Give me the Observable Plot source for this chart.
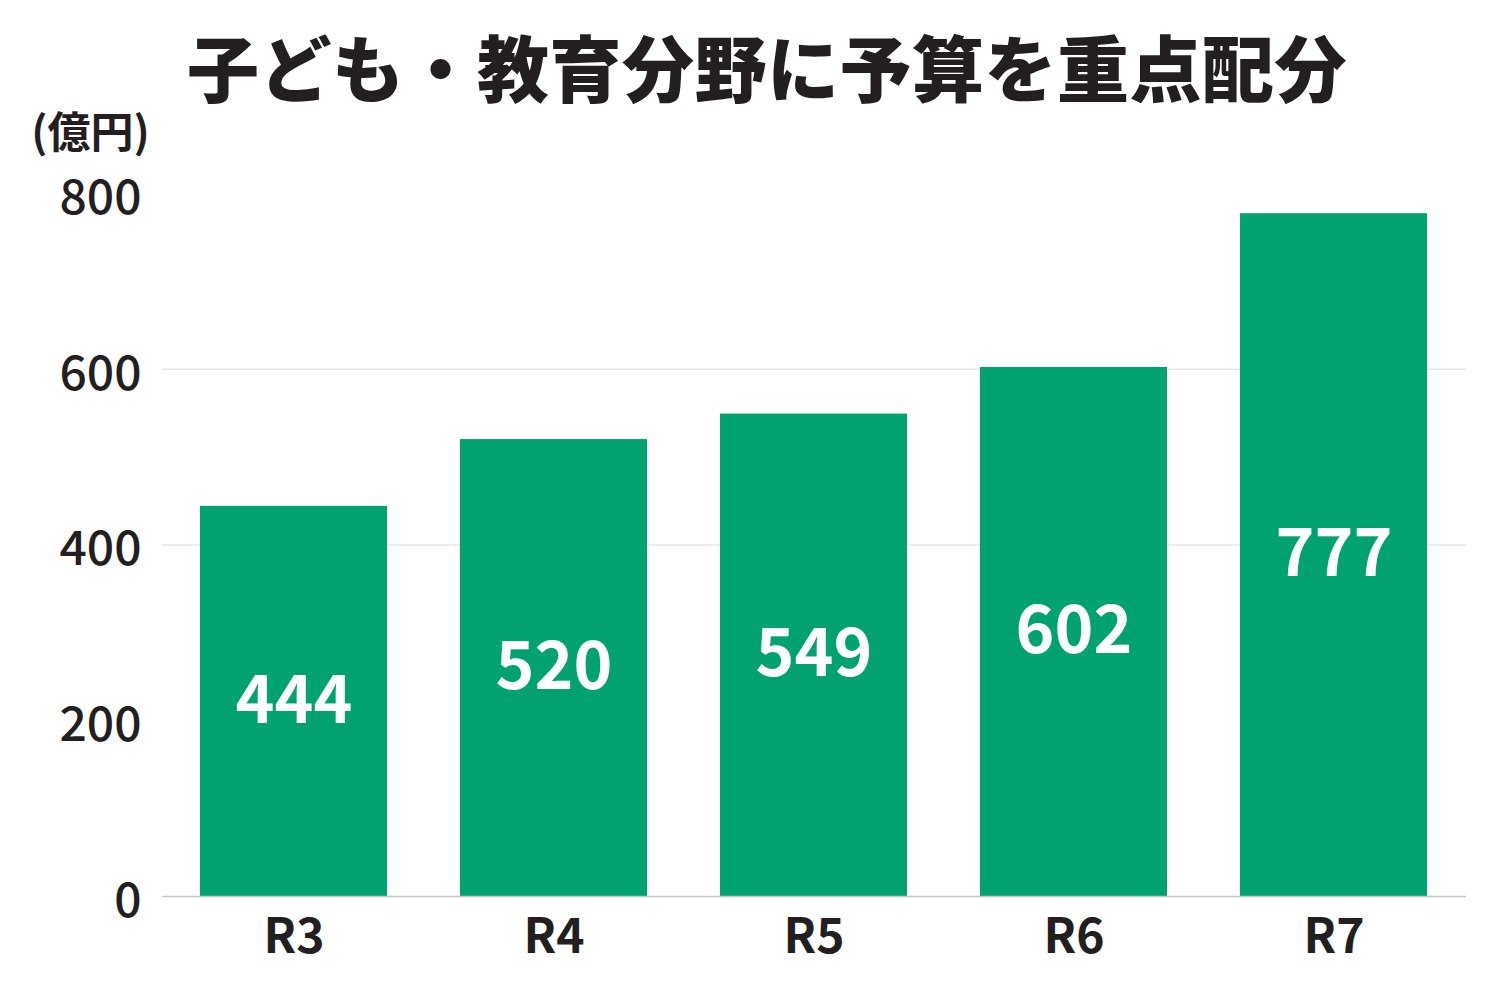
<!DOCTYPE html>
<html>
<head>
<meta charset="utf-8">
<script src="https://cdn.jsdelivr.net/npm/d3@7"></script>
<script src="https://cdn.jsdelivr.net/npm/@observablehq/plot@0.6"></script>
<style>
  html, body { margin: 0; padding: 0; background: #fff; }
  body { width: 1500px; font-family: "Noto Sans CJK JP", "Noto Sans", sans-serif; color: #231f20; }
  #title { padding: 28px 0 9px 34px; line-height: 73px; font-size: 72px; font-weight: 900; text-align: center; letter-spacing: 0.5px; }
  #chart svg { display: block; }
</style>
</head>
<body>
<div id="title">子ども・教育分野に予算を重点配分</div>
<div id="chart"></div>
<script>
const categories = ["R3", "R4", "R5", "R6", "R7"];
const values = [444, 520, 549, 602, 777];
const yTicks = [0, 200, 400, 600, 800];
const gridTicks = [400, 600];
const unitLabel = "(億円)";

const data = categories.map((c, i) => ({ category: c, value: values[i] }));

const chart = Plot.plot({
  width: 1500,
  height: 890,
  marginLeft: 162,
  marginRight: 34,
  marginTop: 83,
  marginBottom: 104,
  style: { fontFamily: "'Noto Sans CJK JP', 'Noto Sans', sans-serif", color: "#231f20", background: "#fff", overflow: "visible" },
  x: { domain: categories, paddingInner: 0.28, paddingOuter: 0.142, label: null },
  y: { domain: [0, 800], label: null },
  marks: [
    Plot.ruleY(gridTicks, { stroke: "#e6e6e6", strokeWidth: 1.5 }),
    Plot.barY(data, { x: "category", y: "value", fill: "#00a270" }),
    Plot.ruleY([0], { stroke: "#c8c8c8", strokeWidth: 1.5 }),
    Plot.axisY({ ticks: yTicks, tickSize: 0, tickPadding: 21, fontSize: 48, fontWeight: 500, dy: 5, label: null }),
    Plot.axisX({ tickSize: 0, tickPadding: 22, fontSize: 48, fontWeight: 700, label: null }),
    Plot.text(data, { x: "category", y: d => d.value / 2, text: d => String(d.value), fill: "#ffffff", fontSize: 66, fontWeight: 700 }),
    Plot.text([unitLabel], { frameAnchor: "top-left", dx: -72, dy: -76, textAnchor: "middle", fontSize: 43, fontWeight: 700, fill: "#231f20" })
  ]
});
document.getElementById("chart").appendChild(chart);
</script>
</body>
</html>
